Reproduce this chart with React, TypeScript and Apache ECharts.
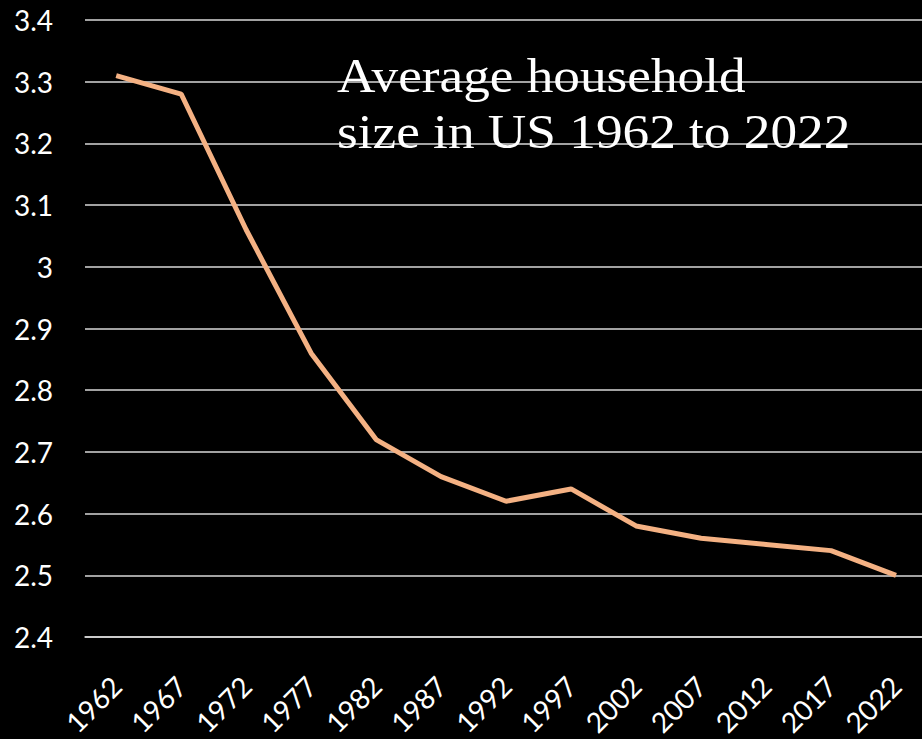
import React, { useEffect, useRef } from "react";
import * as echarts from "echarts";

const years = [1962, 1967, 1972, 1977, 1982, 1987, 1992, 1997, 2002, 2007, 2012, 2017, 2022];
const householdSize = [3.31, 3.28, 3.06, 2.86, 2.72, 2.66, 2.62, 2.64, 2.58, 2.56, 2.55, 2.54, 2.5];
const titleLines = ["Average household", "size in US 1962 to 2022"];

export default function App() {
  const ref = useRef<HTMLDivElement>(null);
  useEffect(() => {
    if (!ref.current) return;
    const chart = echarts.init(ref.current, null, { renderer: "svg" });
    chart.setOption({
      animation: false,
      backgroundColor: "#000000",
      grid: { left: 85, right: 0, top: 20, bottom: 102, containLabel: false },
      xAxis: {
        type: "value",
        min: 1959.6,
        max: 2024.0,
        splitLine: { show: false },
        axisLine: { show: true, onZero: false, lineStyle: { color: "#d9d9d9", width: 1.5 } },
        axisTick: { show: false },
        axisLabel: {
          customValues: years,
          formatter: (v: number) => String(v),
          rotate: 45,
          margin: 44,
          color: "#ffffff",
          fontFamily: "Lato",
          fontSize: 28,
          showMinLabel: true,
          showMaxLabel: true,
        },
      },
      yAxis: {
        type: "value",
        min: 2.4,
        max: 3.4,
        interval: 0.1,
        axisLine: { show: false },
        axisTick: { show: false },
        splitLine: { lineStyle: { color: "#d9d9d9", width: 1.5 } },
        axisLabel: {
          margin: 32,
          color: "#ffffff",
          fontFamily: "Lato",
          fontSize: 28,
          formatter: (v: number) => String(Math.round(v * 10) / 10),
        },
      },
      series: [
        {
          type: "line",
          data: years.map((y, i) => [y, householdSize[i]]),
          showSymbol: false,
          symbol: "none",
          lineStyle: { color: "#F4B183", width: 5 },
          itemStyle: { color: "#F4B183" },
        },
      ],
      graphic: titleLines.map((line, i) => ({
        type: "text",
        x: 337,
        y: 76 + i * 56,
        scaleX: 1.11,
        z: 100,
        style: {
          text: line,
          fill: "#ffffff",
          font: "48px 'Liberation Serif'",
          textAlign: "left",
          textVerticalAlign: "middle",
        },
      })),
    });
    return () => chart.dispose();
  }, []);
  return (
    <div
      ref={ref}
      style={{ position: "fixed", left: 0, top: 0, width: 922, height: 739, overflow: "hidden", background: "#000" }}
    />
  );
}
